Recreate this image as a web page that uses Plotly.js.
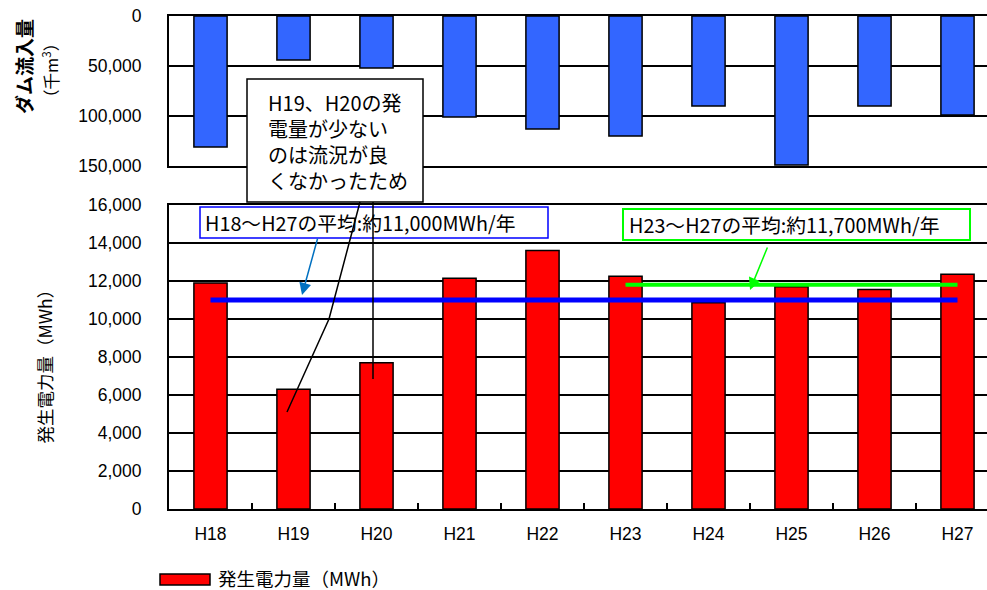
<!DOCTYPE html>
<html>
<head>
<meta charset="utf-8">
<script src="https://cdn.plot.ly/plotly-3.0.1.min.js"></script>
<style>html,body{margin:0;padding:0;background:#fff;}#chart{width:987px;height:590px;}</style>
</head>
<body>
<div id="chart"></div>
<script>
// ---- data ----
const categories = ['H18','H19','H20','H21','H22','H23','H24','H25','H26','H27'];
const inflow = [131000, 44000, 52000, 101000, 113000, 120000, 90000, 149000, 90000, 99000];   // 千m3
const generation = [11900, 6300, 7700, 12150, 13600, 12250, 10850, 11700, 11550, 12350];      // MWh
const avgAllRange = ['H18', 'H27'];
const avgAllValue = 11000;
const avgRecentRange = ['H23', 'H27'];
const avgRecentValue = 11800;
const seriesName = '発生電力量（MWh）';
const inflowTitle = 'ダム流入量';
const inflowUnit = '（千m<sup>3</sup>）';
const genTitle = '発生電力量（MWh）';
const noteText = 'H19、H20の発<br>電量が少ない<br>のは流況が良<br>くなかったため';
const avgAllText = 'H18～H27の平均:約11,000MWh/年';
const avgRecentText = 'H23～H27の平均:約11,700MWh/年';

// ---- layout helpers (pixel -> paper) ----
const W = 987, H = 590, ML = 169, MR = 0, MT = 16, MB = 81;
const PW = W - ML - MR, PH = H - MT - MB;
const px = x => (x - ML) / PW;
const py = y => (H - MB - y) / PH;

const JP = "'Noto Sans CJK JP', sans-serif";
const LAT = "'Liberation Sans', Arial, sans-serif";

const traces = [
  {
    type: 'bar', x: categories, y: generation, xaxis: 'x', yaxis: 'y',
    width: 0.4, marker: {color: '#FF0000', line: {color: '#000', width: 1.5}},
    name: seriesName, hoverinfo: 'x+y'
  },
  {
    type: 'bar', x: categories, y: inflow, xaxis: 'x2', yaxis: 'y2',
    width: 0.4, marker: {color: '#3366FF', line: {color: '#000', width: 1.5}},
    name: inflowTitle, hoverinfo: 'x+y'
  },
  {
    type: 'scatter', mode: 'lines', x: avgAllRange, y: [avgAllValue, avgAllValue],
    xaxis: 'x', yaxis: 'y', line: {color: '#0000FF', width: 5}, hoverinfo: 'skip'
  },
  {
    type: 'scatter', mode: 'lines', x: avgRecentRange, y: [avgRecentValue, avgRecentValue],
    xaxis: 'x', yaxis: 'y', line: {color: '#00FF00', width: 4}, hoverinfo: 'skip'
  }
];

const yBottomTop = py(205);
const yTopBottom = py(166);
const xr = [-0.5, -0.5 + PW / 83];

const layout = {
  width: W, height: H,
  margin: {l: ML, r: MR, t: MT, b: MB, pad: 0},
  paper_bgcolor: '#fff', plot_bgcolor: '#fff',
  showlegend: false,
  font: {family: LAT, color: '#000', size: 17.5},
  xaxis: {
    domain: [0, 1], anchor: 'y', type: 'category', range: xr,
    tickson: 'boundaries', ticks: 'inside', ticklen: 6, tickwidth: 1.5, tickcolor: '#000',
    showline: true, mirror: true, linecolor: '#000', linewidth: 2,
    showgrid: false, zeroline: false,
    tickfont: {family: LAT, size: 17.5, color: '#000'}, ticklabelstandoff: 8
  },
  xaxis2: {
    domain: [0, 1], anchor: 'y2', matches: 'x', type: 'category',
    showticklabels: false, ticks: '',
    showline: true, mirror: true, linecolor: '#000', linewidth: 2,
    showgrid: false, zeroline: false
  },
  yaxis: {
    domain: [0, yBottomTop], anchor: 'x', range: [0, 16000], dtick: 2000, tick0: 0,
    tickformat: ',d', showline: true, linecolor: '#000', linewidth: 2,
    showgrid: true, gridcolor: '#000', gridwidth: 1.3, zeroline: false,
    ticks: '', ticklabelstandoff: 22,
    tickfont: {family: LAT, size: 17.5, color: '#000'}
  },
  yaxis2: {
    domain: [yTopBottom, 1], anchor: 'x2', range: [150000, 0], dtick: 50000, tick0: 0,
    tickformat: ',d', showline: true, linecolor: '#000', linewidth: 2,
    showgrid: true, gridcolor: '#000', gridwidth: 1.3, zeroline: false,
    ticks: '', ticklabelstandoff: 22,
    tickfont: {family: LAT, size: 17.5, color: '#000'}
  },
  shapes: [
    // note box
    {type: 'rect', xref: 'paper', yref: 'paper', x0: px(247), x1: px(423), y0: py(202), y1: py(79),
     fillcolor: '#fff', line: {color: '#000', width: 1.5}, layer: 'above'},
    // average boxes
    {type: 'rect', xref: 'paper', yref: 'paper', x0: px(200), x1: px(548), y0: py(238), y1: py(207),
     fillcolor: '#fff', line: {color: '#0000FF', width: 1.5}, layer: 'above'},
    {type: 'rect', xref: 'paper', yref: 'paper', x0: px(623), x1: px(970), y0: py(240), y1: py(209),
     fillcolor: '#fff', line: {color: '#00FF00', width: 2}, layer: 'above'},
    // callout lines
    {type: 'path', xref: 'paper', yref: 'paper',
     path: `M ${px(360)} ${py(202)} L ${px(329)} ${py(319)} L ${px(287)} ${py(412)}`,
     line: {color: '#000', width: 1.5}, layer: 'above'},
    {type: 'line', xref: 'paper', yref: 'paper', x0: px(373), x1: px(373), y0: py(202), y1: py(379),
     line: {color: '#000', width: 1.5}, layer: 'above'},
    // legend swatch
    {type: 'rect', xref: 'paper', yref: 'paper', x0: px(160), x1: px(210), y0: py(585), y1: py(574),
     fillcolor: '#FF0000', line: {color: '#000', width: 1.5}, layer: 'above'}
  ],
  annotations: [
    {xref: 'paper', yref: 'paper', x: px(266), y: py(141.5), xanchor: 'left', yanchor: 'middle',
     align: 'left', showarrow: false, text: noteText, font: {family: JP, size: 20, color: '#000'}},
    {xref: 'paper', yref: 'paper', x: px(203), y: py(222.5), xanchor: 'left', yanchor: 'middle',
     showarrow: false, text: avgAllText, font: {family: JP, size: 19.8, color: '#000'}},
    {xref: 'paper', yref: 'paper', x: px(627), y: py(225), xanchor: 'left', yanchor: 'middle',
     showarrow: false, text: avgRecentText, font: {family: JP, size: 19.8, color: '#000'}},
    // arrows
    {xref: 'paper', yref: 'paper', x: px(302), y: py(295), ax: 16, ay: -58, text: '',
     showarrow: true, arrowhead: 2, arrowsize: 1.6, arrowwidth: 1.5, arrowcolor: '#0070C0', standoff: 0},
    {xref: 'paper', yref: 'paper', x: px(750), y: py(290), ax: 18, ay: -44, text: '',
     showarrow: true, arrowhead: 2, arrowsize: 1.6, arrowwidth: 1.5, arrowcolor: '#00FF00', standoff: 0},
    // axis titles
    {xref: 'paper', yref: 'paper', x: px(23), y: py(67), textangle: -90, showarrow: false,
     xanchor: 'center', yanchor: 'middle', text: '<b>' + inflowTitle + '</b>',
     font: {family: JP, size: 19, color: '#000'}},
    {xref: 'paper', yref: 'paper', x: px(50), y: py(71), textangle: -90, showarrow: false,
     xanchor: 'center', yanchor: 'middle', text: inflowUnit,
     font: {family: JP, size: 16.5, color: '#000'}},
    {xref: 'paper', yref: 'paper', x: px(43.5), y: py(362), textangle: -90, showarrow: false,
     xanchor: 'center', yanchor: 'middle', text: genTitle,
     font: {family: JP, size: 17.5, color: '#000'}},
    // legend text
    {xref: 'paper', yref: 'paper', x: px(216), y: py(578), xanchor: 'left', yanchor: 'middle',
     showarrow: false, text: seriesName, font: {family: JP, size: 18.5, color: '#000'}}
  ]
};

Plotly.newPlot('chart', traces, layout, {displayModeBar: false, staticPlot: true});
</script>
</body>
</html>
